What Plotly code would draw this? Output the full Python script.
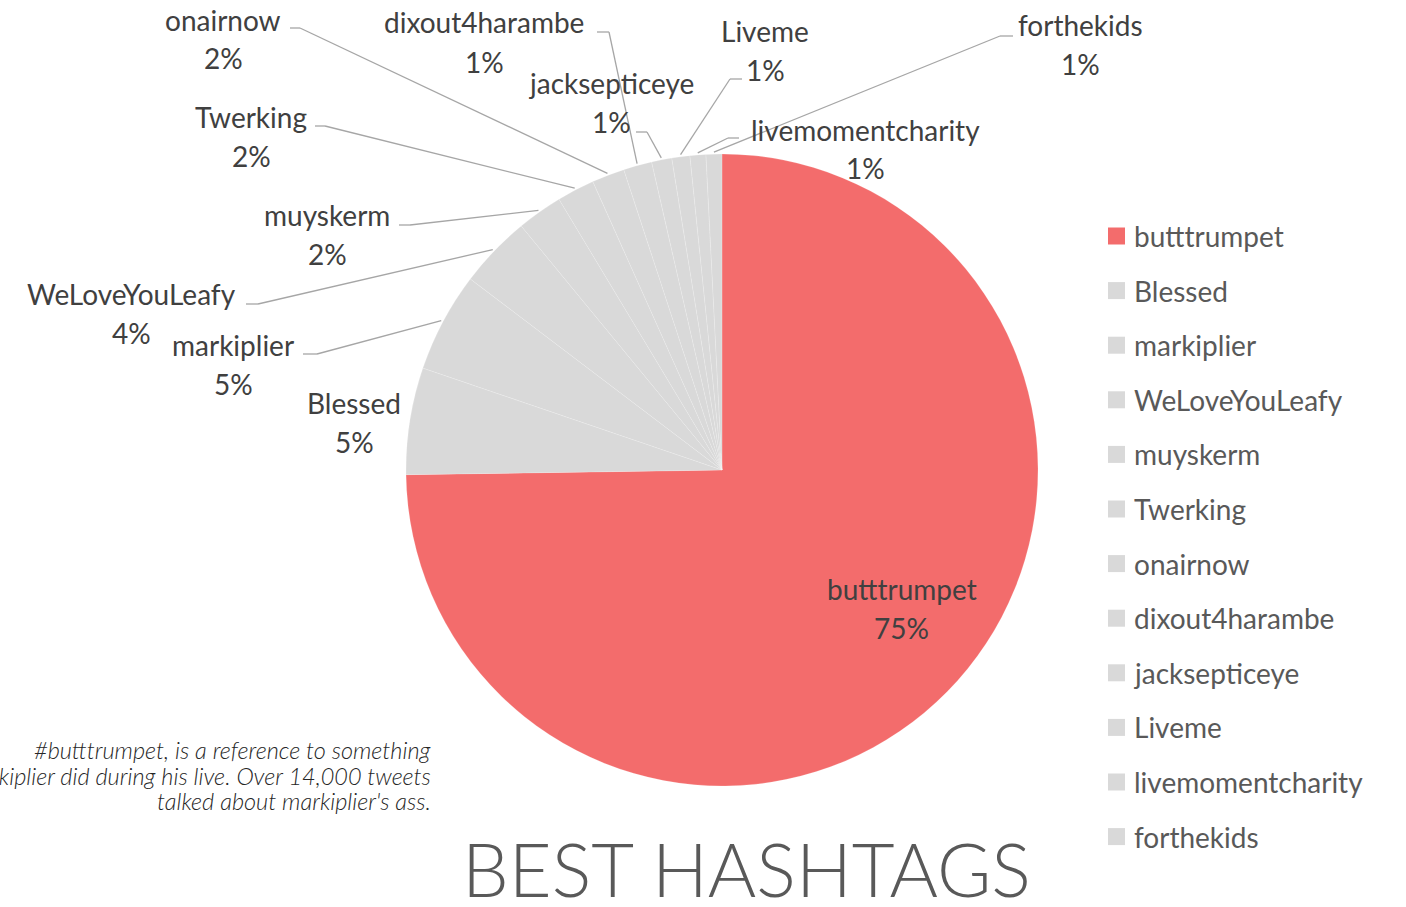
import math
import plotly.graph_objects as go

# ---------------- data ----------------
labels = ["butttrumpet", "Blessed", "markiplier", "WeLoveYouLeafy", "muyskerm",
          "Twerking", "onairnow", "dixout4harambe", "jacksepticeye", "Liveme",
          "livemomentcharity", "forthekids"]
tweets = [14034, 1025, 959, 696, 438, 361, 314, 273, 194, 173, 152, 152]
slice_colors = ["#F36C6C"] + ["#D9D9D9"] * 11

title_text = "BEST HASHTAGS"
note_lines = ["#butttrumpet, is a reference to something",
              "markiplier did during his live. Over 14,000 tweets",
              "talked about markiplier's ass."]

# ---------------- layout (pixels) ----------------
W, H = 1406, 907
CX, CY, R = 722, 470, 316

# label placement: name centre, percent centre, elbow (x_from, x_to, y) or None
label_pos = {
    "butttrumpet":       ((902, 589), (902, 628), None),
    "Blessed":           ((354, 403), (354, 442), None),
    "markiplier":        ((233, 345), (233, 384), (303, 317, 354)),
    "WeLoveYouLeafy":    ((131, 294), (131, 333), (246, 258, 304)),
    "muyskerm":          ((327, 215), (327, 254), (399, 410, 225)),
    "Twerking":          ((251, 117), (251, 156), (315, 325, 126)),
    "onairnow":          ((223, 20), (223, 58), (290, 300, 28)),
    "dixout4harambe":    ((484, 22), (484, 62), (597, 609, 32)),
    "jacksepticeye":     ((611, 83), (611, 122), (636, 647, 132)),
    "Liveme":            ((765, 31), (765, 70), (742, 730, 79)),
    "livemomentcharity": ((866, 130), (866, 168), (739, 728, 138)),
    "forthekids":        ((1080, 25), (1080, 64), (1013, 1000, 36)),
}

def px(x):
    return x / W

def py(y):
    return 1 - y / H

LABEL_FONT = dict(family="Lato", size=28, color="#404040")
LINE_COLOR = "#A6A6A6"

fig = go.Figure()
fig.add_trace(go.Pie(
    labels=labels,
    values=tweets,
    sort=False,
    direction="clockwise",
    rotation=0,
    textinfo="none",
    textposition="none",
    marker=dict(colors=slice_colors, line=dict(color="rgba(255,255,255,0.35)", width=0.5)),
    domain=dict(x=[px(CX - R), px(CX + R)], y=[py(CY + R), py(CY - R)]),
    showlegend=False,
    hoverinfo="label+percent",
))

annotations = []
shapes = []
total = sum(tweets)
cum = 0.0
for lab, val in zip(labels, tweets):
    frac = val / total
    mid = (cum + frac / 2) * 2 * math.pi
    cum += frac
    pct = f"{int(100 * frac + 0.5)}%"
    (nx, ny), (qx, qy), elbow = label_pos[lab]
    annotations.append(dict(x=px(nx), y=py(ny), xref="paper", yref="paper", text=lab,
                            showarrow=False, font=LABEL_FONT, xanchor="center", yanchor="middle"))
    annotations.append(dict(x=px(qx), y=py(qy), xref="paper", yref="paper", text=pct,
                            showarrow=False, font=LABEL_FONT, xanchor="center", yanchor="middle"))
    if elbow is not None:
        ex = CX + (R + 2) * math.sin(mid)
        ey = CY - (R + 2) * math.cos(mid)
        x0, x1, yy = elbow
        shapes.append(dict(type="line", xref="paper", yref="paper",
                           x0=px(x0), y0=py(yy), x1=px(x1), y1=py(yy),
                           line=dict(color=LINE_COLOR, width=1.3)))
        shapes.append(dict(type="line", xref="paper", yref="paper",
                           x0=px(x1), y0=py(yy), x1=px(ex), y1=py(ey),
                           line=dict(color=LINE_COLOR, width=1.3)))

# manual legend
LEG_X, LEG_Y0, LEG_DY = 1108, 236, 54.6
for i, (lab, col) in enumerate(zip(labels, slice_colors)):
    yc = LEG_Y0 + i * LEG_DY
    shapes.append(dict(type="rect", xref="paper", yref="paper",
                       x0=px(LEG_X), x1=px(LEG_X + 17), y0=py(yc + 8.5), y1=py(yc - 8.5),
                       fillcolor=col, line=dict(width=0)))
    annotations.append(dict(x=px(LEG_X + 24), y=py(yc), xref="paper", yref="paper", text=lab,
                            showarrow=False, xanchor="left", yanchor="middle",
                            font=dict(family="Lato", size=28, color="#595959")))

# footnote
for i, line in enumerate(note_lines):
    annotations.append(dict(x=px(433), y=py(750 + i * 25.5), xref="paper", yref="paper",
                            text=line, showarrow=False, xanchor="right", yanchor="middle",
                            font=dict(family="Lato", size=23.5, color="#262626",
                                      style="italic", weight=300)))
# title
annotations.append(dict(x=px(746), y=py(868), xref="paper", yref="paper", text=title_text,
                        showarrow=False, xanchor="center", yanchor="middle",
                        font=dict(family="Lato", size=74, color="#595959", weight=300)))

fig.update_layout(
    width=W, height=H,
    margin=dict(l=0, r=0, t=0, b=0),
    paper_bgcolor="white",
    plot_bgcolor="white",
    annotations=annotations,
    shapes=shapes,
)

fig.write_html("out.html")
